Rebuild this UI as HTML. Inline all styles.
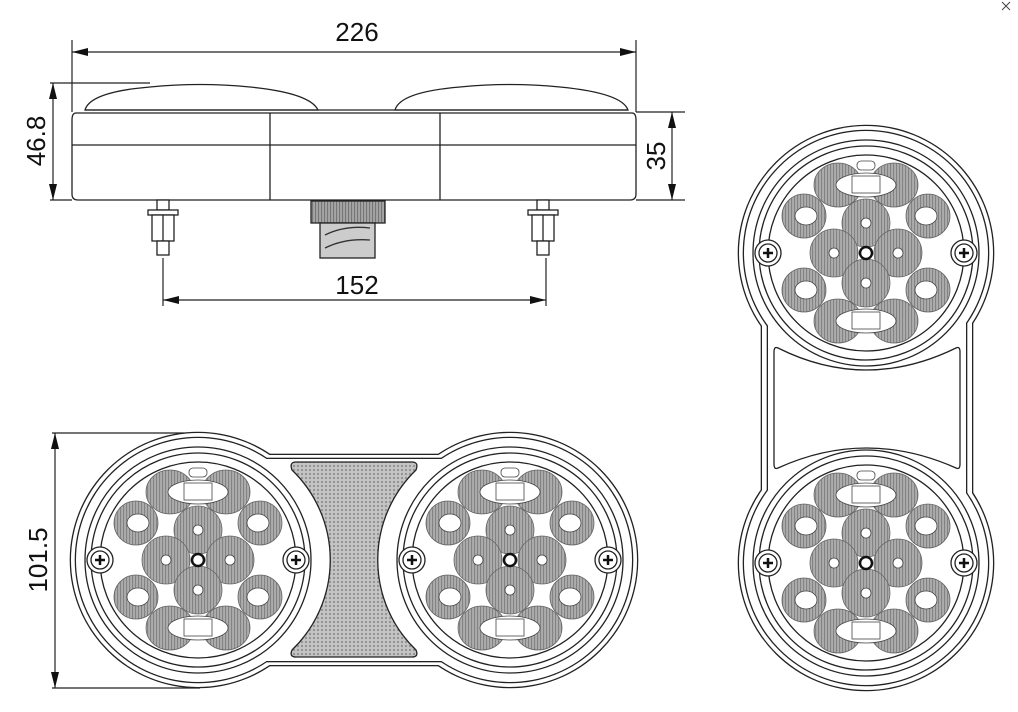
<!DOCTYPE html>
<html><head><meta charset="utf-8"><style>
html,body{margin:0;padding:0;background:#fff;width:1018px;height:712px;overflow:hidden}
svg{display:block}
text{font-family:"Liberation Sans",sans-serif;font-size:26px;fill:#111}
</style></head><body>
<svg width="1018" height="712" viewBox="0 0 1018 712" xmlns="http://www.w3.org/2000/svg">
<defs>
<pattern id="dots" width="4" height="4" patternUnits="userSpaceOnUse">
<rect width="4" height="4" fill="#c4c4c4"/><circle cx="2" cy="2" r="1.1" fill="#8f8f8f"/>
</pattern>
<pattern id="hatch" width="3" height="3" patternUnits="userSpaceOnUse">
<rect width="3" height="3" fill="#a4a4a4"/><rect width="1.1" height="3" fill="#767676"/>
</pattern>
<g id="screw">
<circle r="13" fill="#fff" stroke="#222" stroke-width="1.3"/>
<circle r="9" fill="#fff" stroke="#222" stroke-width="1.3"/>
<path d="M-5 0H5M0 -5V5" stroke="#111" stroke-width="2.5"/>
</g>
<g id="lens">
<circle r="98" fill="#fff" stroke="#222" stroke-width="1.3"/>
<g fill="url(#hatch)" stroke="#555" stroke-width="0.8" opacity="0.9">
<ellipse cx="-28" cy="-68" rx="24" ry="22"/><ellipse cx="28" cy="-68" rx="24" ry="22"/>
<ellipse cx="-28" cy="68" rx="24" ry="22"/><ellipse cx="28" cy="68" rx="24" ry="22"/>
<circle cx="-62" cy="-37" r="22"/><circle cx="62" cy="-37" r="22"/>
<circle cx="-62" cy="37" r="22"/><circle cx="62" cy="37" r="22"/>
<circle cx="0" cy="-30" r="24"/><circle cx="-32" cy="0" r="24"/>
<circle cx="32" cy="0" r="24"/><circle cx="0" cy="30" r="24"/>
</g>
<g fill="#fff" stroke="#444" stroke-width="0.8">
<ellipse cx="0" cy="-68" rx="30" ry="12"/><rect x="-14" y="-77" width="28" height="17"/>
<ellipse cx="0" cy="68" rx="30" ry="12"/><rect x="-14" y="59" width="28" height="17"/>
<ellipse cx="-60" cy="-37" rx="11" ry="9"/><ellipse cx="60" cy="-37" rx="11" ry="9"/>
<ellipse cx="-60" cy="37" rx="11" ry="9"/><ellipse cx="60" cy="37" rx="11" ry="9"/>
<circle cx="0" cy="-30" r="5"/><circle cx="-32" cy="0" r="5"/><circle cx="32" cy="0" r="5"/><circle cx="0" cy="30" r="5"/>
<rect x="-9" y="-92" width="18" height="9" rx="4"/>
</g>
<circle r="6" fill="#fff" stroke="#111" stroke-width="2.5"/>
</g>
<g id="lamp">
<circle r="113" fill="#fff" stroke="#222" stroke-width="1.3"/>
<circle r="107" fill="none" stroke="#222" stroke-width="1.3"/>
<use href="#lens"/>
<use href="#screw" x="-98"/><use href="#screw" x="98"/>
</g>
</defs>

<!-- ===== TOP VIEW ===== -->
<g stroke="#222" stroke-width="1.3" fill="#fff">
<path d="M85 110 Q90 92 150 87 Q200 82 250 87 Q310 93 318 110Z"/>
<path d="M395 110 Q400 92 460 87 Q510 82 560 87 Q622 93 628 110Z"/>
<line x1="85" y1="110" x2="628" y2="110"/>
<path d="M76 113 H632 Q636 113 636 120 V194 Q636 200 630 200 H78 Q72 200 72 194 V120 Q72 113 76 113Z"/>
<line x1="72" y1="145" x2="636" y2="145"/>
<line x1="270" y1="113" x2="270" y2="200"/>
<line x1="440" y1="113" x2="440" y2="200"/>
<rect x="157" y="200" width="12" height="10"/><rect x="148" y="210" width="30" height="5"/>
<rect x="152" y="215" width="22" height="26"/><line x1="163" y1="215" x2="163" y2="241"/>
<rect x="157" y="241" width="12" height="14"/>
<rect x="537" y="200" width="12" height="10"/><rect x="528" y="210" width="30" height="5"/>
<rect x="532" y="215" width="22" height="26"/><line x1="543" y1="215" x2="543" y2="241"/>
<rect x="537" y="241" width="12" height="14"/>
<rect x="311" y="201" width="74" height="22" fill="url(#hatch)"/>
<rect x="320" y="223" width="55" height="35" fill="#ccc"/>
<path d="M325 235 Q345 225 370 228 M325 248 Q345 238 370 240" fill="none" stroke="#333"/>
</g>

<!-- dimensions -->
<g stroke="#222" stroke-width="1.2" fill="none">
<line x1="72" y1="40" x2="72" y2="112"/><line x1="636" y1="40" x2="636" y2="112"/>
<line x1="72" y1="52" x2="636" y2="52"/>
<line x1="53" y1="83" x2="53" y2="200"/><line x1="50" y1="83" x2="150" y2="83"/><line x1="50" y1="200" x2="72" y2="200"/>
<line x1="672" y1="112" x2="672" y2="200"/><line x1="636" y1="112" x2="685" y2="112"/><line x1="636" y1="200" x2="685" y2="200"/>
<line x1="163" y1="258" x2="163" y2="306"/><line x1="546" y1="258" x2="546" y2="306"/>
<line x1="163" y1="300" x2="546" y2="300"/>
<line x1="55" y1="433" x2="55" y2="688"/><line x1="52" y1="433" x2="200" y2="433"/><line x1="52" y1="688" x2="200" y2="688"/>
</g>
<g fill="#111">
<path d="M72 52 l16 -4 v8Z"/><path d="M636 52 l-16 -4 v8Z"/>
<path d="M53 83 l-4 16 h8Z"/><path d="M53 200 l-4 -16 h8Z"/>
<path d="M672 112 l-4 16 h8Z"/><path d="M672 200 l-4 -16 h8Z"/>
<path d="M163 300 l16 -4 v8Z"/><path d="M546 300 l-16 -4 v8Z"/>
<path d="M55 433 l-4 16 h8Z"/><path d="M55 688 l-4 -16 h8Z"/>
</g>
<text x="357" y="41" text-anchor="middle">226</text>
<text x="357" y="294" text-anchor="middle">152</text>
<text transform="translate(45,141) rotate(-90)" text-anchor="middle">46.8</text>
<text transform="translate(665,156) rotate(-90)" text-anchor="middle">35</text>
<text transform="translate(47,560) rotate(-90)" text-anchor="middle">101.5</text>

<!-- ===== FRONT VIEW ===== -->
<g stroke="#222" stroke-width="2.6" fill="#fff">
<circle cx="198" cy="560" r="127"/><circle cx="510" cy="560" r="127"/><rect x="198" y="455" width="312" height="210"/>
</g>
<g fill="#fff"><circle cx="198" cy="560" r="127"/><circle cx="510" cy="560" r="127"/><rect x="198" y="455" width="312" height="210"/></g>
<g stroke="#222" stroke-width="2.6" fill="#fff">
<circle cx="198" cy="560" r="122"/><circle cx="510" cy="560" r="122"/><rect x="198" y="459" width="312" height="202"/>
</g>
<g fill="#fff"><circle cx="198" cy="560" r="122"/><circle cx="510" cy="560" r="122"/><rect x="198" y="459" width="312" height="202"/></g>
<path d="M296 462 Q289 462 292 470 A125 125 0 0 1 292 650 Q289 657 296 657 H412 Q419 657 416 650 A125 125 0 0 1 416 470 Q419 462 412 462Z" fill="url(#dots)" stroke="#222" stroke-width="1.3"/>
<use href="#lamp" x="198" y="560"/>
<use href="#lamp" x="510" y="560"/>

<!-- ===== VERTICAL VIEW ===== -->
<g stroke="#222" stroke-width="2.6" fill="#fff">
<circle cx="866" cy="253" r="127"/><circle cx="866" cy="563" r="127"/><rect x="762" y="253" width="210" height="310"/>
</g>
<g fill="#fff"><circle cx="866" cy="253" r="127"/><circle cx="866" cy="563" r="127"/><rect x="762" y="253" width="210" height="310"/></g>
<g stroke="#222" stroke-width="2.6" fill="#fff">
<circle cx="866" cy="253" r="122"/><circle cx="866" cy="563" r="122"/><rect x="768" y="253" width="198" height="310"/>
</g>
<g fill="#fff"><circle cx="866" cy="253" r="122"/><circle cx="866" cy="563" r="122"/><rect x="768" y="253" width="198" height="310"/></g>
<path d="M778 348 Q866 392 956 348 Q960 346 960 352 V464 Q960 470 956 468 Q866 428 778 468 Q774 470 774 464 V352 Q774 346 778 348Z" fill="none" stroke="#222" stroke-width="1.3"/>
<use href="#lamp" x="866" y="253"/>
<use href="#lamp" x="866" y="563"/>

<path d="M1002 2 l8 8 M1010 2 l-8 8" stroke="#444" stroke-width="1"/>
</svg>
</body></html>
